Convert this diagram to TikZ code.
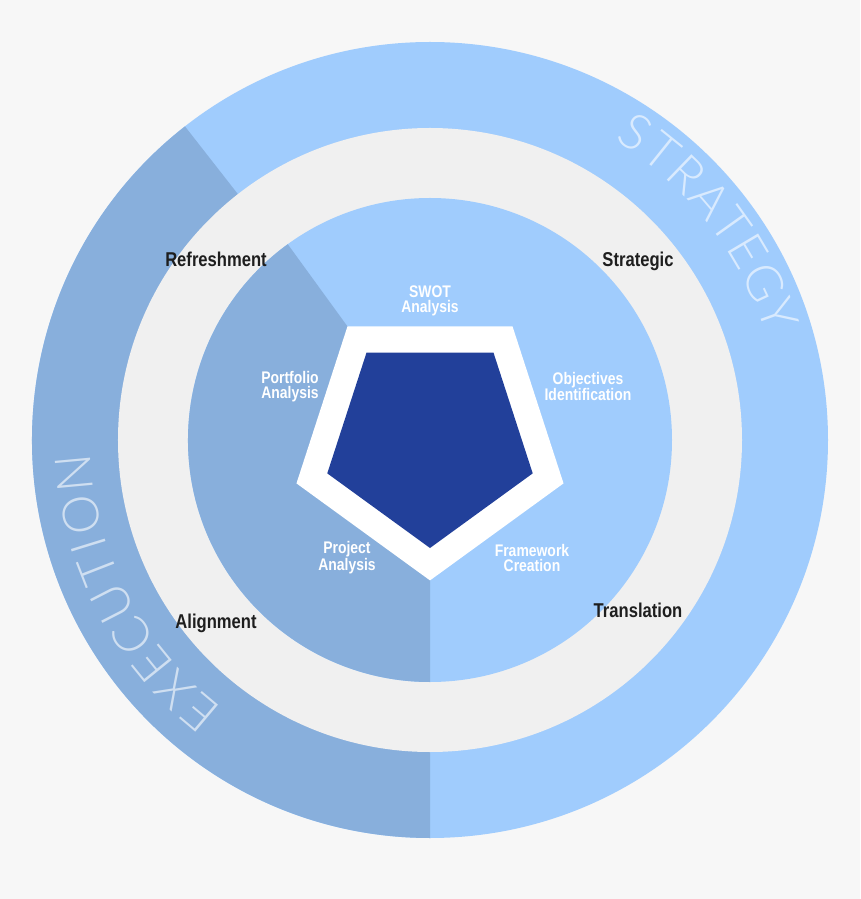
\documentclass[tikz,border=0pt]{standalone}
\usepackage{fontspec}
\newfontfamily\labfont{Liberation Sans}[FakeStretch=0.83]
\IfFontExistsTF{Lato Light}{\newfontfamily\thinfont{Lato Light}}{%
 \IfFontExistsTF{Open Sans Light}{\newfontfamily\thinfont{Open Sans Light}}{%
  \IfFontExistsTF{Fira Sans Light}{\newfontfamily\thinfont{Fira Sans Light}}{%
   \IfFontExistsTF{DejaVu Sans ExtraLight}{\newfontfamily\thinfont{DejaVu Sans ExtraLight}}{%
    \newfontfamily\thinfont{Liberation Sans}}}}}
\definecolor{bgcol}{HTML}{F7F7F7}
\definecolor{lightblue}{HTML}{A0CCFD}
\definecolor{darkblue}{HTML}{88AFDC}
\definecolor{ringgray}{HTML}{F0F0F0}
\definecolor{navy}{HTML}{22409A}
\definecolor{labdark}{HTML}{1E1E1E}
\tikzset{
  outerlabel/.style={font={\labfont\bfseries\fontsize{20}{24}\selectfont}, text=labdark, inner sep=0pt, anchor=base},
  innerlabel/.style={font={\labfont\bfseries\fontsize{16.8}{15}\selectfont}, text=white, inner sep=0pt, align=center},
  curvetext/.style={font={\thinfont\fontsize{50}{50}\selectfont}, text=white, text opacity=0.6, inner sep=0pt}
}
\begin{document}
\begin{tikzpicture}[x=1pt,y=1pt]
\useasboundingbox (-430,-459) rectangle (430,440);
\fill[bgcol] (-430,-459) rectangle (430,440);
% outer ring
\fill[lightblue] (0,0) circle[radius=398pt];
\fill[darkblue] (0,0) -- (128:398pt) arc[start angle=128, end angle=270, radius=398pt] -- cycle;
% gray ring
\fill[ringgray] (0,0) circle[radius=312pt];
% inner disc
\fill[lightblue] (0,0) circle[radius=242pt];
\fill[darkblue] (0,0) -- (126:242pt) arc[start angle=126, end angle=270, radius=242pt] -- cycle;
% pentagons
\fill[white] (270:140.4pt) -- (342:140.4pt) -- (54:140.4pt) -- (126:140.4pt) -- (198:140.4pt) -- cycle;
\fill[navy] (270:108pt) -- (342:108pt) -- (54:108pt) -- (126:108pt) -- (198:108pt) -- cycle;
% curved ring words
\foreach \ch/\a [count=\i] in {S/56.2, T/51.2, R/46.0, A/40.6, T/35.5, E/30.7, G/25.2, Y/19.8}
  \node[curvetext, rotate=\a-90] (strat\i) at (\a:370pt) {\ch};
\foreach \ch/\a [count=\i] in {E/229.9, X/224.4, E/219.0, C/213.4, U/207.2, T/201.3, I/197.2, O/192.1, N/185.3}
  \node[curvetext, rotate=\a-90] (exec\i) at (\a:357pt) {\ch};
% outer labels
\node[outerlabel] (refresh) at (-214,173) {Refreshment};
\node[outerlabel] (strategic) at (208,173) {Strategic};
\node[outerlabel] (align) at (-214,-188) {Alignment};
\node[outerlabel] (transl) at (208,-177) {Translation};
% inner labels
\node[innerlabel] (swot) at (0,139) {SWOT\\Analysis};
\node[innerlabel] (portfolio) at (-140,53.5) {Portfolio\\Analysis};
\node[innerlabel] (objectives) at (158,53.5) {Objectives\\Identification};
\node[innerlabel] (project) at (-83,-117.5) {Project\\Analysis};
\node[innerlabel] (framework) at (102,-117.5) {Framework\\Creation};
\end{tikzpicture}
\end{document}
